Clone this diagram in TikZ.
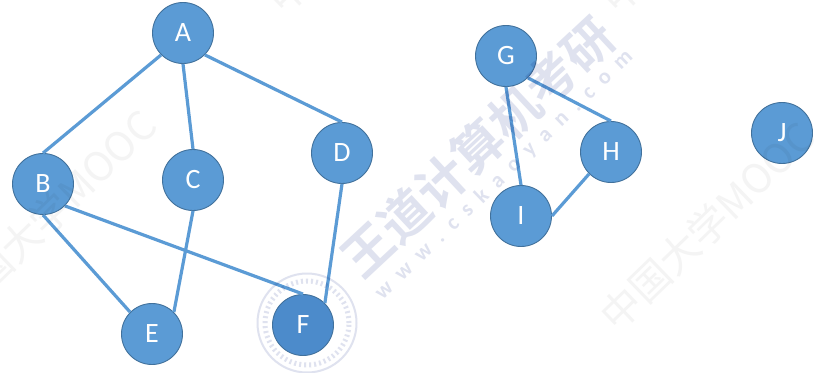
\documentclass[tikz,border=0pt]{standalone}
\usepackage{fontspec}
\setmainfont{Carlito}
\newfontfamily\cjk{Noto Sans CJK SC}[BoldFont={* Bold}]
\definecolor{nodeblue}{HTML}{5B9BD5}
\definecolor{nodeedge}{HTML}{41719C}
\definecolor{fblue}{HTML}{4C8BCB}
\definecolor{markblue}{HTML}{DFE2EF}
\definecolor{markgray}{HTML}{F4F4F4}
\tikzset{
  vertex/.style={circle,draw=nodeedge,line width=0.9pt,fill=nodeblue,text=white,minimum size=61pt,inner sep=0pt,font=\fontsize{28}{28}\selectfont},
  link/.style={draw=nodeblue,line width=3.2pt},
  bigmark/.style={rotate=43,text=markblue,font=\cjk\bfseries\fontsize{50}{50}\selectfont,inner sep=0pt},
  urlmark/.style={rotate=44,text=markblue,font=\bfseries\fontsize{22}{22}\selectfont,inner sep=0pt},
  mooc/.style={rotate=44,text=markgray,font=\cjk\fontsize{40}{40}\selectfont,inner sep=0pt},
  stampring/.style={circle,draw=markblue,inner sep=0pt}
}
\begin{document}
\begin{tikzpicture}[x=1pt,y=-1pt]
\useasboundingbox (0,0) rectangle (816,372);
\fill[white] (0,0) rectangle (816,372);
\node[vertex] (A) at (183,33) {A};
\node[vertex] (B) at (43,184) {B};
\node[vertex] (C) at (193,180) {C};
\node[vertex] (D) at (342,153) {D};
\node[vertex] (E) at (152,334) {E};
\node[vertex,fill=fblue] (F) at (303,325) {F};
\node[vertex] (G) at (506,56) {G};
\node[vertex] (H) at (611,152) {H};
\node[vertex] (I) at (521,216) {I};
\node[vertex] (J) at (782,133) {J};
\path[link] (A.south west) -- (B.north);
\path[link] (A.south) -- (C.north);
\path[link] (A.south east) -- (D.north);
\path[link] (B.south) -- (E.north west);
\path[link] (B.south east) -- (F.north);
\path[link] (C.south) -- (E.north east);
\path[link] (D.south) -- (F.north east);
\path[link] (G.south east) -- (H.north);
\path[link] (G.south) -- (I.north);
\path[link] (H.south west) -- (I.east);
\begin{scope}[blend mode=multiply]
\clip (0,0) rectangle (816,372);
\node[mooc] (m1) at (49,214) {中国大学MOOC};
\node[mooc] (m2) at (707,226) {中国大学MOOC};
\node[mooc] (m3) at (374,-91) {中国大学MOOC};
\node[mooc] (m4) at (708,-91) {中国大学MOOC};
\node[bigmark] (wd) at (478,147) {王道计算机考研};
\node[urlmark] (url) at (504,175) {w\,\,\,w\,\,\,w\,\,\,.\,\,\,c\,\,\,s\,\,\,k\,\,\,a\,\,\,o\,\,\,y\,\,\,a\,\,\,n\,\,\,.\,\,\,c\,\,\,o\,\,\,m};
\node[stampring,line width=2pt,minimum size=99pt] (s1) at (307,323) {};
\node[stampring,line width=5pt,dash pattern=on 2pt off 3pt,minimum size=84pt] (s2) at (307,323) {};
\end{scope}
\end{tikzpicture}
\end{document}
